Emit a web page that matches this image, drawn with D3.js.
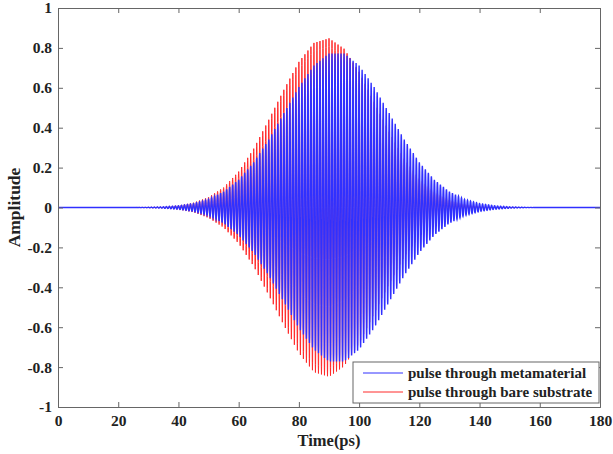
<!DOCTYPE html>
<html>
<head>
<meta charset="utf-8">
<script src="https://cdn.jsdelivr.net/npm/d3@7"></script>
<style>
  html, body { margin: 0; padding: 0; background: #fff; }
  svg { display: block; }
  text { font-family: "Liberation Serif", "Times New Roman", serif; font-weight: bold; }
</style>
</head>
<body>
<svg id="chart" width="613" height="454"></svg>
<script>
// ---- Data ----
// Envelope sample times (ps)
const envTimes = [0,5,10,15,20,25,30,35,40,45,50,55,60,65,70,75,80,85,90,95,100,105,110,115,120,125,130,135,140,145,150,155,160,165,170,175,180];
// Envelope amplitude of the pulse through bare substrate (red)
const envBare = [0,0,0,0,0,0,0.001,0.004,0.010,0.024,0.052,0.10,0.18,0.295,0.44,0.59,0.73,0.825,0.848,0.796,0.68,0.53,0.38,0.245,0.145,0.079,0.039,0.017,0.007,0.003,0.001,0,0,0,0,0,0];
// Envelope amplitude of the pulse through metamaterial (blue)
const envMeta = [0,0,0,0,0,0,0.001,0.0035,0.009,0.020,0.041,0.079,0.139,0.227,0.341,0.473,0.604,0.712,0.772,0.772,0.712,0.604,0.473,0.341,0.227,0.139,0.079,0.041,0.020,0.009,0.0035,0.001,0,0,0,0,0];
// Carrier period (ps), sampling step (ps), carrier phase of blue pulse (cycles)
const carrierPeriod = 1.0;
const sampleStep = 0.05;
const phaseMeta = 0.0;
// Tick labels
const xTicks = [0,20,40,60,80,100,120,140,160,180];
const yTicks = [-1,-0.8,-0.6,-0.4,-0.2,0,0.2,0.4,0.6,0.8,1];
const yTickLabels = ["-1","-0.8","-0.6","-0.4","-0.2","0","0.2","0.4","0.6","0.8","1"];
const seriesNames = ["pulse through metamaterial", "pulse through bare substrate"];
const seriesColors = ["#3030ff", "#ff2a2a"];

// ---- Layout ----
const svg = d3.select("#chart");
const L = 58, R = 600, T = 8, B = 407;
const x = d3.scaleLinear().domain([0,180]).range([L,R]);
const y = d3.scaleLinear().domain([-1,1]).range([B,T]);

function buildSignal(env, phase) {
  const envScale = d3.scaleLinear().domain(envTimes).range(env);
  const n = Math.round(180 / sampleStep);
  const pts = [];
  for (let i = 0; i <= n; i++) {
    const t = i * sampleStep;
    pts.push([t, envScale(t) * Math.cos(2 * Math.PI * (t / carrierPeriod + phase))]);
  }
  return pts;
}

const line = d3.line().x(d => x(d[0])).y(d => y(d[1]));

svg.append("clipPath").attr("id","clip").append("rect")
  .attr("x", L).attr("y", T).attr("width", R-L).attr("height", B-T);

const g = svg.append("g").attr("clip-path","url(#clip)");
g.append("path").datum(buildSignal(envBare, 0))
  .attr("d", line).attr("fill","none").attr("stroke", seriesColors[1]).attr("stroke-width", 1);
g.append("path").datum(buildSignal(envMeta, phaseMeta))
  .attr("d", line).attr("fill","none").attr("stroke", seriesColors[0]).attr("stroke-width", 1.4);

// ---- Axes ----
const axisColor = "#666";
const fs = 15.5;
const axB = svg.append("g").attr("transform", `translate(0,${B})`)
  .call(d3.axisBottom(x).tickValues(xTicks).tickSize(-5).tickPadding(8).tickFormat(d3.format("d")));
const axT = svg.append("g").attr("transform", `translate(0,${T})`)
  .call(d3.axisTop(x).tickValues(xTicks).tickSize(-5).tickFormat(""));
const axL = svg.append("g").attr("transform", `translate(${L},0)`)
  .call(d3.axisLeft(y).tickValues(yTicks).tickSize(-5).tickPadding(6).tickFormat((d, i) => yTickLabels[i]));
const axRt = svg.append("g").attr("transform", `translate(${R},0)`)
  .call(d3.axisRight(y).tickValues(yTicks).tickSize(-5).tickFormat(""));
[axB, axT, axL, axRt].forEach(a => {
  a.selectAll("path.domain").attr("stroke", axisColor).attr("stroke-width", 1);
  a.selectAll(".tick line").attr("stroke", axisColor);
  a.selectAll("text").attr("fill", "#222").style("font-size", fs + "px")
    .style("font-family", '"Liberation Serif", serif').style("font-weight", "bold");
});

// Axis titles
svg.append("text").attr("x", (L+R)/2).attr("y", 446).attr("text-anchor","middle")
  .style("font-size","16.5px").attr("fill","#222").text("Time(ps)");
svg.append("text").attr("transform", `translate(20,${(T+B)/2}) rotate(-90)`).attr("text-anchor","middle")
  .style("font-size","17.5px").attr("fill","#222").text("Amplitude");

// ---- Legend ----
const lg = svg.append("g");
lg.append("rect").attr("x", 353).attr("y", 362).attr("width", 246).attr("height", 41)
  .attr("fill","#fff").attr("stroke", axisColor).attr("stroke-width", 1);
seriesNames.forEach((name, i) => {
  const yy = 373 + i * 19;
  lg.append("line").attr("x1", 363).attr("x2", 403).attr("y1", yy).attr("y2", yy)
    .attr("stroke", seriesColors[i]).attr("stroke-width", 1);
  lg.append("text").attr("x", 408).attr("y", yy + 5).style("font-size","15px")
    .attr("fill","#222").text(name);
});
</script>
</body>
</html>
